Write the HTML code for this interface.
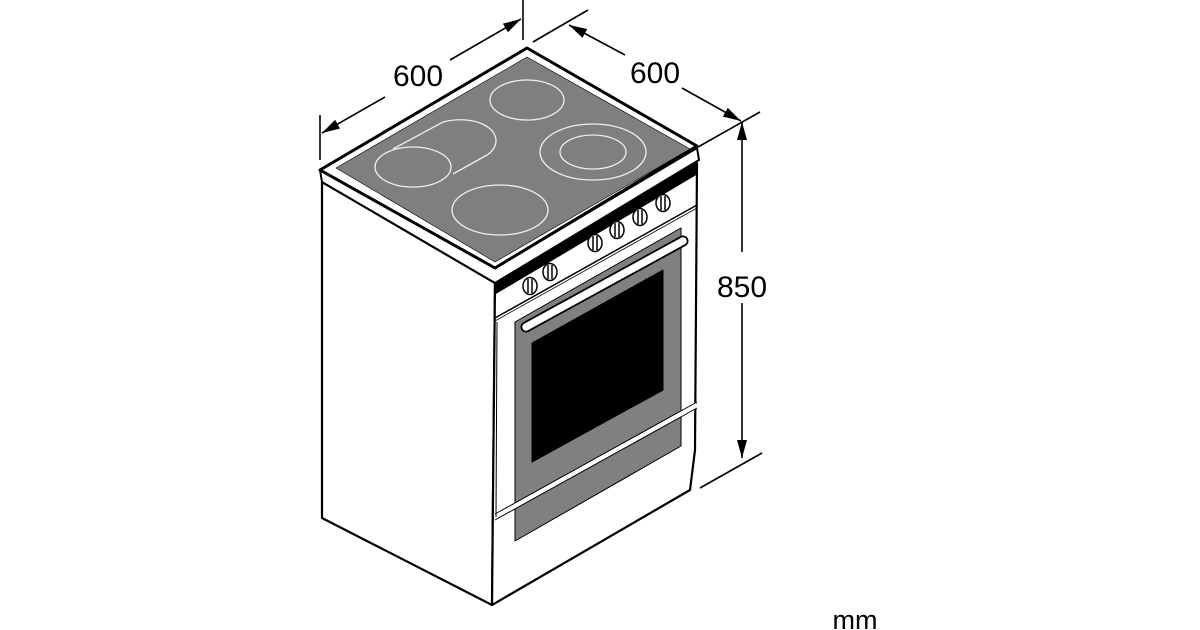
<!DOCTYPE html>
<html><head><meta charset="utf-8"><style>
html,body{margin:0;padding:0;background:#fff;}
svg{display:block;}
text{font-family:"Liberation Sans",sans-serif;fill:#000;}
</style></head><body>
<svg width="1200" height="630" viewBox="0 0 1200 630" xmlns="http://www.w3.org/2000/svg">
<defs>
<marker id="ar" viewBox="0 0 18 10" refX="18" refY="5" markerWidth="18" markerHeight="10" markerUnits="userSpaceOnUse" orient="auto"><path d="M0,0 L18,5 L0,10 Z" fill="#000"/></marker>
</defs>
<g stroke="#000" stroke-width="1.6" fill="none">
<!-- left 600 -->
<line x1="320" y1="115" x2="320" y2="160"/>
<line x1="523" y1="0" x2="523" y2="40"/>
<line x1="385" y1="97" x2="322" y2="133" marker-end="url(#ar)"/>
<line x1="450" y1="60" x2="521" y2="19" marker-end="url(#ar)"/>
<!-- right 600 -->
<line x1="533" y1="42" x2="588" y2="10"/>
<line x1="698" y1="147" x2="760" y2="112"/>
<line x1="625" y1="55" x2="569" y2="25" marker-end="url(#ar)"/>
<line x1="682" y1="88" x2="741" y2="121" marker-end="url(#ar)"/>
<!-- 850 -->
<line x1="742" y1="252" x2="742" y2="122" marker-end="url(#ar)"/>
<line x1="742" y1="303" x2="742" y2="458" marker-end="url(#ar)"/>
<line x1="700" y1="488" x2="762" y2="453"/>
</g>
<text x="418" y="86" font-size="30" text-anchor="middle">600</text>
<text x="655" y="83" font-size="30" text-anchor="middle">600</text>
<text x="742" y="297" font-size="30" text-anchor="middle">850</text>
<text x="855" y="629" font-size="27" text-anchor="middle">mm</text>

<!-- body -->
<g stroke="#000" stroke-linejoin="round">
<polygon points="322,182 495,283 492,605 322,518" fill="#fff" stroke-width="2.2"/>
<polygon points="495,283 697,163 695,450 690,490 492,605" fill="#fff" stroke-width="2.2"/>
<!-- black band -->
<polygon points="495,283 697,163 697,174 495,294" fill="#000" stroke-width="1"/>
<!-- control panel bottom -->
<line x1="495" y1="318" x2="697" y2="205" stroke-width="1.5"/>
<line x1="495" y1="321" x2="697" y2="208" stroke-width="0.8"/>
<!-- door gray -->
<polygon points="515,322 681,228 681,446 515,541" fill="#808080" stroke-width="1"/>
<polygon points="532,343 663,270 663,390 532,462" fill="#000" stroke-width="1"/>
<!-- stripe -->
<line x1="495" y1="517" x2="697" y2="405" stroke="#fff" stroke-width="5"/>
<line x1="495" y1="514" x2="697" y2="402" stroke-width="1"/>
<line x1="495" y1="520" x2="697" y2="408" stroke-width="1"/>
<!-- door left edge -->
<line x1="497" y1="322" x2="496" y2="517" stroke-width="1"/>
<!-- handle -->
<line x1="526" y1="327" x2="683" y2="241" stroke="#000" stroke-width="11" stroke-linecap="round"/>
<line x1="526" y1="327" x2="683" y2="241" stroke="#fff" stroke-width="7.5" stroke-linecap="round"/>
<!-- top slab -->
<polygon points="320,170 495,268 697,148 699,160 495,283 322,182" fill="#fff" stroke-width="2"/>
<polygon points="527,48 697,146 495,268 320,170" fill="#fff" stroke-width="3"/>
<polygon points="527,57 690,149 495,262 336,168" fill="#7f7f7f" stroke-width="0.6"/>
</g>
<!-- knobs -->
<g stroke="#000" stroke-width="1.5" fill="#fff">
<g transform="translate(530,286)"><ellipse rx="7" ry="8.5"/><line x1="-2" y1="-7" x2="-2" y2="7"/><line x1="2" y1="-7" x2="2" y2="7"/></g>
<g transform="translate(550,272)"><ellipse rx="7" ry="8.5"/><line x1="-2" y1="-7" x2="-2" y2="7"/><line x1="2" y1="-7" x2="2" y2="7"/></g>
<g transform="translate(595,243)"><ellipse rx="7" ry="8.5"/><line x1="-2" y1="-7" x2="-2" y2="7"/><line x1="2" y1="-7" x2="2" y2="7"/></g>
<g transform="translate(617,230)"><ellipse rx="7" ry="8.5"/><line x1="-2" y1="-7" x2="-2" y2="7"/><line x1="2" y1="-7" x2="2" y2="7"/></g>
<g transform="translate(640,217)"><ellipse rx="7" ry="8.5"/><line x1="-2" y1="-7" x2="-2" y2="7"/><line x1="2" y1="-7" x2="2" y2="7"/></g>
<g transform="translate(663,203)"><ellipse rx="7" ry="8.5"/><line x1="-2" y1="-7" x2="-2" y2="7"/><line x1="2" y1="-7" x2="2" y2="7"/></g>
</g>
<!-- burners -->
<g stroke="#eee" stroke-width="1.3" fill="none">
<ellipse cx="527" cy="100" rx="37" ry="20"/>
<ellipse cx="593" cy="152" rx="53" ry="28"/>
<ellipse cx="593" cy="152" rx="33" ry="17"/>
<ellipse cx="500" cy="210" rx="48" ry="25"/>
<ellipse cx="413" cy="167" rx="38" ry="20"/>
<path d="M393,149 L443,122 C470,115 497,125 496,142 C495,148 492,152 487,155 L453,174"/>
</g>
</svg>
</body></html>
